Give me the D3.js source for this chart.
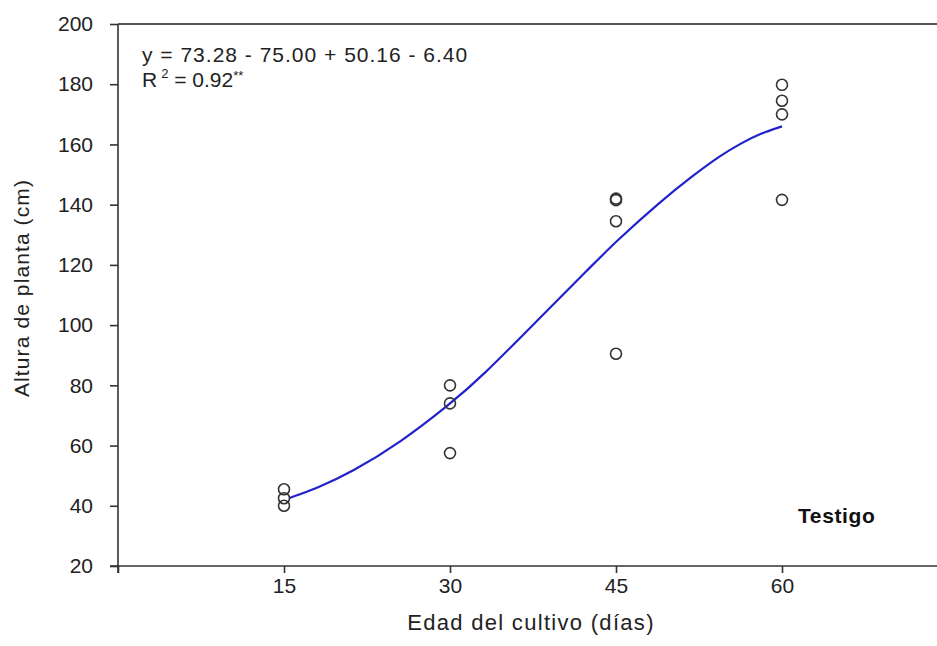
<!DOCTYPE html>
<html>
<head>
<meta charset="utf-8">
<script src="https://cdn.jsdelivr.net/npm/d3@7"></script>
<style>
  body { margin: 0; background: #fff; }
  svg { display: block; font-family: "Liberation Sans", Arial, sans-serif; }
</style>
</head>
<body>
<svg width="937" height="646"></svg>
<script>
// observed plant heights
var obsX = [15, 15, 15, 30, 30, 30, 45, 45, 45, 45, 60, 60, 60, 60];
var obsY = [45.5, 42.5, 40, 80, 74, 57.5, 142, 141.5, 134.5, 90.5, 179.8, 174.5, 170, 141.6];

// fitted curve
var fitX = [15.5, 18, 21, 25.6, 30, 32.8, 38.2, 42.7, 45, 49, 52, 54.5, 56.3, 58, 60];
var fitY = [42.6, 45.9, 50.9, 61.2, 73.8, 82.6, 102.7, 119.3, 127.8, 141, 149.8, 156.5, 160.4, 163.6, 166];

var xTicks = [0, 15, 30, 45, 60];
var yTicks = [20, 40, 60, 80, 100, 120, 140, 160, 180, 200];

var svgWidth = 937, svgHeight = 646;
var plotLeft = 118, plotTop = 24, plotBottom = 566;

var svg = d3.select("svg");

var x = d3.scaleLinear().domain([0, 75]).range([plotLeft, plotLeft + 830]);
var y = d3.scaleLinear().domain([20, 200]).range([plotBottom, plotTop]);

var lineColor = "#333";

// top border
svg.append("line")
    .attr("x1", plotLeft).attr("x2", svgWidth)
    .attr("y1", y(200)).attr("y2", y(200))
    .attr("stroke", "#555").attr("stroke-width", 2);

var xAxis = svg.append("g")
    .attr("transform", "translate(0," + plotBottom + ")")
    .call(d3.axisBottom(x).tickValues(xTicks).tickSize(7).tickPadding(5)
        .tickFormat(function(d) { return d === 0 ? "" : d; }));

var yAxis = svg.append("g")
    .attr("transform", "translate(" + plotLeft + ",0)")
    .call(d3.axisLeft(y).tickValues(yTicks).tickSize(8).tickPadding(17));

[xAxis, yAxis].forEach(function(g) {
  g.select(".domain").attr("stroke", lineColor).attr("stroke-width", 1.6);
  g.selectAll(".tick line").attr("stroke", lineColor).attr("stroke-width", 1.6);
  g.selectAll(".tick text").attr("fill", "#222").attr("font-size", "21px")
    .attr("font-family", "Liberation Sans, Arial, sans-serif");
});
xAxis.select(".domain").attr("d", "M" + (plotLeft - 8) + ",0H" + svgWidth);
yAxis.select(".domain").attr("d", "M0," + y(200) + "V" + (plotBottom + 7));

// fitted curve
var line = d3.line()
    .x(function(d) { return x(d[0]); })
    .y(function(d) { return y(d[1]); })
    .curve(d3.curveBasis);

svg.append("path")
    .datum(d3.zip(fitX, fitY))
    .attr("d", line)
    .attr("fill", "none")
    .attr("stroke", "#2222cc")
    .attr("stroke-width", 2.2);

// points
svg.selectAll("circle.obs")
    .data(d3.zip(obsX, obsY))
    .enter()
    .append("circle")
    .attr("class", "obs")
    .attr("cx", function(d) { return x(d[0]); })
    .attr("cy", function(d) { return y(d[1]); })
    .attr("r", 5.5)
    .attr("fill", "none")
    .attr("stroke", "#333")
    .attr("stroke-width", 1.6);

// labels
svg.append("text")
    .attr("x", 142).attr("y", 62)
    .attr("font-size", "21px").attr("fill", "#222")
    .attr("letter-spacing", "1px")
    .text("y = 73.28 - 75.00 + 50.16 - 6.40");

var r2 = svg.append("text")
    .attr("x", 142).attr("y", 87)
    .attr("font-size", "21px").attr("fill", "#222");
r2.append("tspan").text("R");
r2.append("tspan").attr("dy", -9).attr("dx", 4).attr("font-size", "13px").text("2");
r2.append("tspan").attr("dy", 9).text(" = 0.92");
r2.append("tspan").attr("dy", -7).attr("font-size", "13px").text("**");

svg.append("text")
    .attr("x", 798).attr("y", 523)
    .attr("font-size", "21px").attr("font-weight", "bold").attr("fill", "#111")
    .attr("letter-spacing", "0.6px")
    .text("Testigo");

svg.append("text")
    .attr("x", 531).attr("y", 630)
    .attr("text-anchor", "middle")
    .attr("font-size", "22px").attr("fill", "#222")
    .attr("letter-spacing", "1.3px")
    .text("Edad del cultivo (días)");

svg.append("text")
    .attr("transform", "translate(29,288) rotate(-90)")
    .attr("text-anchor", "middle")
    .attr("font-size", "21px").attr("fill", "#222")
    .attr("letter-spacing", "1.1px")
    .text("Altura de planta (cm)");
</script>
</body>
</html>
